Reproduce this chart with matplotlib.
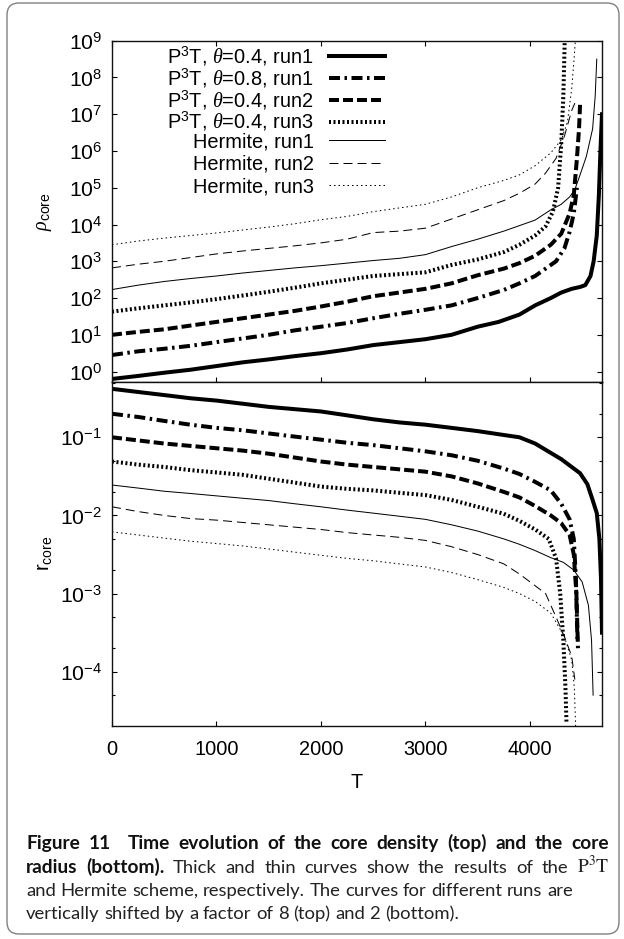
import matplotlib
matplotlib.use("Agg")
import matplotlib.pyplot as plt
from matplotlib.patches import FancyBboxPatch
from matplotlib.transforms import IdentityTransform
from matplotlib.ticker import LogLocator, NullLocator, NullFormatter, FixedLocator

plt.rcParams.update({
    'font.family': ['Liberation Sans', 'DejaVu Sans'],
    'mathtext.fontset': 'custom',
    'mathtext.rm': 'Liberation Sans',
    'mathtext.it': 'Liberation Serif:italic',
    'mathtext.bf': 'Liberation Sans:bold',
    'axes.unicode_minus': False,
    'lines.scale_dashes': False,
})

# ---------------- data ----------------
series_labels = [r'P$^3$T, $\theta$=0.4, run1', r'P$^3$T, $\theta$=0.8, run1',
                 r'P$^3$T, $\theta$=0.4, run2', r'P$^3$T, $\theta$=0.4, run3',
                 'Hermite, run1', 'Hermite, run2', 'Hermite, run3']
x_ticks = [0, 1000, 2000, 3000, 4000]

# top panel: core density
T_rho_p04r1 = [0, 250, 500, 750, 1000, 1250, 1500, 1750, 2000, 2250, 2500, 2750, 3000, 3250, 3500,
               3700, 3900, 4050, 4200, 4300, 4400, 4480, 4530, 4580, 4610, 4640, 4660, 4675, 4690]
rho_p04r1 = [0.63, 0.76, 0.93, 1.12, 1.41, 1.78, 2.14, 2.63, 3.16, 3.98, 5.25, 6.31, 7.59, 10.0, 16.6,
             22.4, 35.5, 63.1, 100, 141, 178, 200, 224, 398, 1000, 5012, 6.3e4, 1e6, 1e7]

T_rho_p08r1 = [0, 250, 500, 750, 1000, 1250, 1500, 1750, 2000, 2250, 2500, 2750, 3000, 3250, 3500,
               3750, 3900, 4050, 4150, 4250, 4330, 4380, 4420, 4450]
rho_p08r1 = [2.82, 3.55, 4.17, 5.01, 6.31, 7.94, 10, 13.2, 16.6, 20.9, 28.2, 37.2, 47.9, 63.1, 100,
             166, 251, 398, 631, 1000, 2239, 6310, 2e4, 1e5]

T_rho_p04r2 = [0, 250, 500, 750, 1000, 1250, 1500, 1750, 2000, 2250, 2500, 2750, 3000, 3250, 3500,
               3750, 3900, 4050, 4200, 4300, 4380, 4420, 4450, 4470, 4480]
rho_p04r2 = [10, 12.0, 14.1, 17.8, 22.4, 28.2, 35.5, 44.7, 58.9, 79.4, 112, 141, 178, 251, 417,
             631, 891, 1413, 2818, 5623, 2e4, 6.3e4, 6.3e5, 4e6, 1.8e7]

T_rho_p04r3 = [0, 250, 500, 750, 1000, 1250, 1500, 1750, 2000, 2250, 2500, 2750, 3000, 3250, 3500,
               3750, 3900, 4050, 4150, 4220, 4270, 4300, 4320, 4335]
rho_p04r3 = [42.7, 52.5, 63.1, 75.9, 93.3, 117, 148, 191, 251, 316, 398, 447, 501, 794, 1122,
             1778, 2818, 5012, 8913, 2.24e4, 1e5, 1.58e6, 3.16e7, 1.58e9]

T_rho_h1 = [0, 250, 500, 750, 1000, 1250, 1500, 1750, 2000, 2250, 2500, 2750, 3000, 3250, 3500,
            3750, 3900, 4050, 4200, 4300, 4380, 4430, 4480, 4540, 4600, 4625, 4640]
rho_h1 = [170, 224, 282, 339, 398, 479, 562, 661, 759, 891, 1047, 1202, 1514, 2512, 3981,
          6607, 9333, 1.32e4, 2.51e4, 3.55e4, 5.62e4, 8.91e4, 2.24e5, 7.08e5, 3.98e6, 3.16e7, 3.16e8]

T_rho_h2 = [0, 250, 500, 750, 1000, 1250, 1500, 1750, 2000, 2250, 2500, 2750, 3000, 3250, 3500,
            3750, 3900, 4050, 4150, 4250, 4330, 4400, 4430]
rho_h2 = [661, 832, 1000, 1259, 1585, 1905, 2239, 2630, 3162, 3981, 6026, 6607, 7943, 1.41e4, 2.51e4,
          4.47e4, 7.08e4, 1.26e5, 2.51e5, 6.31e5, 2.51e6, 1.26e7, 2e7]

T_rho_h3 = [0, 250, 500, 750, 1000, 1250, 1500, 1750, 2000, 2250, 2500, 2750, 3000, 3250, 3500,
            3750, 3900, 4050, 4200, 4300, 4360, 4400, 4420, 4440]
rho_h3 = [2818, 3548, 4266, 5012, 5888, 7079, 8511, 1.05e4, 1.35e4, 1.66e4, 2.24e4, 2.82e4, 3.55e4, 5.62e4, 1e5,
          1.58e5, 2.24e5, 3.98e5, 8.91e5, 2e6, 6.31e6, 5.01e7, 2.51e8, 1.58e9]

# bottom panel: core radius
T_r_p04r1 = [0, 250, 500, 750, 1000, 1250, 1500, 1750, 2000, 2250, 2500, 2750, 3000, 3250, 3500,
             3750, 3900, 4050, 4200, 4300, 4400, 4480, 4550, 4600, 4640, 4665, 4680, 4690]
r_p04r1 = [0.417, 0.380, 0.347, 0.316, 0.295, 0.269, 0.245, 0.229, 0.214, 0.191, 0.170, 0.155, 0.145, 0.132, 0.120,
           0.107, 0.1, 0.0832, 0.0631, 0.0525, 0.0417, 0.0347, 0.0251, 0.0158, 0.0107, 0.00501, 0.00158, 3.16e-4]

T_r_p08r1 = [0, 250, 500, 750, 1000, 1250, 1500, 1750, 2000, 2250, 2500, 2750, 3000, 3250, 3500,
             3750, 3900, 4050, 4200, 4300, 4380, 4420, 4440, 4455]
r_p08r1 = [0.2, 0.182, 0.162, 0.145, 0.132, 0.123, 0.112, 0.102, 0.0933, 0.0851, 0.0794, 0.0724, 0.0661, 0.0589, 0.0501,
           0.0398, 0.0339, 0.0269, 0.0209, 0.0141, 0.00891, 0.00501, 0.00158, 2.51e-4]

T_r_p04r2 = [0, 250, 500, 750, 1000, 1250, 1500, 1750, 2000, 2250, 2500, 2750, 3000, 3250, 3500,
             3750, 3900, 4050, 4200, 4300, 4380, 4420, 4445, 4460]
r_p04r2 = [0.1, 0.0912, 0.0832, 0.0776, 0.0724, 0.0676, 0.0617, 0.055, 0.049, 0.0447, 0.0417, 0.0389, 0.0363, 0.0316, 0.0257,
           0.02, 0.017, 0.0132, 0.01, 0.00794, 0.00562, 0.00316, 0.001, 2e-4]

T_r_p04r3 = [0, 250, 500, 750, 1000, 1250, 1500, 1750, 2000, 2250, 2500, 2750, 3000, 3250, 3500,
             3750, 3900, 4050, 4180, 4250, 4290, 4320, 4340, 4350]
r_p04r3 = [0.049, 0.0447, 0.0417, 0.038, 0.0355, 0.0331, 0.0295, 0.0263, 0.0234, 0.0219, 0.0209, 0.0195, 0.0182, 0.0158, 0.0129,
           0.0105, 0.00851, 0.00661, 0.00501, 0.00282, 0.001, 2.51e-4, 6.31e-5, 2.24e-5]

T_r_h1 = [0, 250, 500, 750, 1000, 1250, 1500, 1750, 2000, 2250, 2500, 2750, 3000, 3250, 3500,
          3750, 3900, 4050, 4200, 4320, 4420, 4500, 4560, 4590, 4605]
r_h1 = [0.0245, 0.0224, 0.0204, 0.0191, 0.0178, 0.0166, 0.0155, 0.0141, 0.0129, 0.0117, 0.0107, 0.00977, 0.00891, 0.00759, 0.00631,
        0.00501, 0.00427, 0.00355, 0.00288, 0.00251, 0.002, 0.00141, 7.08e-4, 2.51e-4, 5.01e-5]

T_r_h2 = [0, 250, 500, 750, 1000, 1250, 1500, 1750, 2000, 2250, 2500, 2750, 3000, 3250, 3500,
          3750, 3900, 4050, 4150, 4250, 4330, 4400, 4430]
r_h2 = [0.0129, 0.0112, 0.01, 0.00912, 0.00871, 0.00813, 0.00759, 0.00708, 0.00661, 0.00603, 0.00562, 0.00525, 0.00479, 0.00398, 0.00316,
        0.0024, 0.00178, 0.00126, 0.001, 5.01e-4, 2.82e-4, 1.58e-4, 7.94e-5]

T_r_h3 = [0, 250, 500, 750, 1000, 1250, 1500, 1750, 2000, 2250, 2500, 2750, 3000, 3250, 3500,
          3750, 3900, 4050, 4200, 4330, 4400, 4425, 4440]
r_h3 = [0.00617, 0.00562, 0.00513, 0.00468, 0.00437, 0.00407, 0.00372, 0.00339, 0.00309, 0.00282, 0.00263, 0.0024, 0.00219, 0.00186, 0.00151,
        0.0012, 0.001, 7.94e-4, 5.62e-4, 2.82e-4, 1.41e-4, 6.31e-5, 1.58e-5]

# caption: list of lines, each a list of (word, style); style b=bold, r=regular, m=serif math
caption_lines = [
    [("Figure", 'b'), ("11", 'b'), (None, 'b'), ("Time", 'b'), ("evolution", 'b'), ("of", 'b'), ("the", 'b'),
     ("core", 'b'), ("density", 'b'), ("(top)", 'b'), ("and", 'b'), ("the", 'b'), ("core", 'b')],
    [("radius", 'b'), ("(bottom).", 'b'), ("Thick", 'r'), ("and", 'r'), ("thin", 'r'), ("curves", 'r'),
     ("show", 'r'), ("the", 'r'), ("results", 'r'), ("of", 'r'), ("the", 'r'), (r"$\mathrm{P}^3\mathrm{T}$", 'm')],
    [(w, 'r') for w in "and Hermite scheme, respectively. The curves for different runs are".split()],
    [(w, 'r') for w in "vertically shifted by a factor of 8 (top) and 2 (bottom).".split()],
]

# ---------------- styles ----------------
PX = 0.72  # points per pixel at 100 dpi
THICK = 4.0 * PX
THIN = 1.0 * PX
styles = [
    ('solid', THICK),
    ((0, (11 * PX, 4.5 * PX, 2.5 * PX, 4.5 * PX)), THICK),
    ((0, (10 * PX, 4 * PX)), THICK),
    ((0, (2 * PX, 2.5 * PX)), THICK),
    ('solid', THIN),
    ((0, (9 * PX, 5 * PX)), THIN),
    ((0, (1.5 * PX, 3 * PX)), THIN),
]

W, H = 624, 939
fig = plt.figure(figsize=(W / 100, H / 100), dpi=100)
L = 112 / W
AW = 490 / W
ax1 = fig.add_axes([L, 1 - 382 / H, AW, 341.3 / H])
ax2 = fig.add_axes([L, 1 - 725.5 / H, AW, 343.5 / H])

FS = 14.4
FSY = 15.2
top_T = [T_rho_p04r1, T_rho_p08r1, T_rho_p04r2, T_rho_p04r3, T_rho_h1, T_rho_h2, T_rho_h3]
top_v = [rho_p04r1, rho_p08r1, rho_p04r2, rho_p04r3, rho_h1, rho_h2, rho_h3]
bot_T = [T_r_p04r1, T_r_p08r1, T_r_p04r2, T_r_p04r3, T_r_h1, T_r_h2, T_r_h3]
bot_v = [r_p04r1, r_p08r1, r_p04r2, r_p04r3, r_h1, r_h2, r_h3]

handles = []
for (ls, lw), t, v, lab in zip(styles, top_T, top_v, series_labels):
    h, = ax1.plot(t, v, color='black', linestyle=ls, linewidth=lw, label=lab,
                  solid_joinstyle='round', dash_capstyle='butt')
    handles.append(h)
for (ls, lw), t, v in zip(styles, bot_T, bot_v):
    ax2.plot(t, v, color='black', linestyle=ls, linewidth=lw,
             solid_joinstyle='round', dash_capstyle='butt')

for ax in (ax1, ax2):
    ax.set_yscale('log')
    ax.set_xlim(0, 4690)
    ax.xaxis.set_major_locator(FixedLocator(x_ticks))
    for s in ax.spines.values():
        s.set_linewidth(1.0)
        s.set_color('#111111')

ax1.set_ylim(0.52, 1e9)
ax2.set_ylim(2.05e-5, 0.51)

ax1.yaxis.set_major_locator(LogLocator(base=10, numticks=20))
ax1.yaxis.set_minor_locator(NullLocator())
ax2.yaxis.set_major_locator(LogLocator(base=10, numticks=20))
ax2.yaxis.set_minor_locator(LogLocator(base=10, subs=(2, 5), numticks=20))
ax2.yaxis.set_minor_formatter(NullFormatter())

ax1.tick_params(axis='both', which='both', direction='in', top=True, right=True, bottom=True,
                labelbottom=False, length=3.6, width=0.8, labelsize=FS)
ax1.tick_params(axis='y', pad=7.2, labelsize=FSY)
ax2.tick_params(axis='both', which='major', direction='in', top=False, right=True,
                length=3.6, width=0.8, labelsize=FS)
ax2.tick_params(axis='both', which='minor', direction='in', top=False, right=True,
                length=2.4, width=0.8)
ax2.tick_params(axis='y', pad=7.2, labelsize=FSY)
ax2.tick_params(axis='x', pad=10.5)

ax1.set_ylabel(r'$\rho_{\rm core}$', fontsize=FS)
ax1.yaxis.set_label_coords(-0.118, 0.5)
ax2.set_ylabel(r'r$_{\rm core}$', fontsize=FS)
ax2.yaxis.set_label_coords(-0.118, 0.5)
ax2.set_xlabel('T', fontsize=FS)
ax2.xaxis.set_label_coords(0.5, -0.138)

leg_kw = dict(loc='upper right', markerfirst=False, frameon=False, fontsize=FS,
              handlelength=2.78, handletextpad=0.78, borderpad=0, borderaxespad=0)
leg1 = ax1.legend(handles=handles[:4], bbox_to_anchor=(0.557, 0.988), labelspacing=-0.07, **leg_kw)
ax1.add_artist(leg1)
ax1.legend(handles=handles[4:], bbox_to_anchor=(0.557, 0.732), labelspacing=0.18, **leg_kw)

# ---------------- caption ----------------
CAP = 'Lato'
renderer = fig.canvas.get_renderer()
probe = fig.text(0, 0, "and Hermite scheme, respectively. The curves for different runs are",
                 family=CAP, size=12)
pw = probe.get_window_extent(renderer=renderer).width
probe.remove()
cs = 12 * 547.0 / pw
baselines = [849.3, 872.6, 895.9, 919.2]
x_left = 26.0
x_right = [609.0, 609.0, 573.0, None]


def word_text(x, y, word, style):
    kw = dict(va='baseline', ha='left', transform=IdentityTransform())
    if style == 'b':
        return fig.text(x, y, word, family=CAP, weight='bold', size=cs * 1.035, color='#111111', **kw)
    if style == 'm':
        return fig.text(x, y, word, math_fontfamily='stix', size=cs * 1.05, color='#222222', **kw)
    return fig.text(x, y, word, family=CAP, size=cs, color='#222222', **kw)


space_nat = 0.25 * cs * 100 / 72
for line, base, xr in zip(caption_lines, baselines, x_right):
    y = H - base
    arts = []
    widths = []
    for word, st in line:
        if word is None:
            arts.append(None)
            widths.append(0.0)
            continue
        a = word_text(0, y, word, st)
        arts.append(a)
        widths.append(a.get_window_extent(renderer=renderer).width)
    ngaps = len(line) - 1
    if xr is None:
        gap = space_nat
    else:
        gap = max((xr - x_left - sum(widths)) / ngaps, 0.6 * space_nat)
    x = x_left
    for a, w in zip(arts, widths):
        if a is not None:
            a.set_x(x)
        x += w + gap

box = FancyBboxPatch((7, 5), 612, 931, boxstyle='round,pad=0,rounding_size=12',
                     transform=IdentityTransform(), fill=False, edgecolor='#808080',
                     linewidth=1.0)
fig.patches.append(box)

fig.savefig('out.png', dpi=100)
